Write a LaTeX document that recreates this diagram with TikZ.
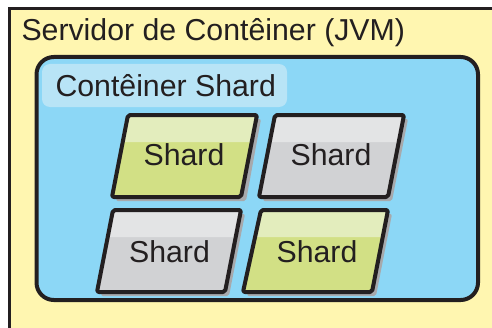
\documentclass[tikz,border=0pt]{standalone}
\usepackage{fontspec}
\setmainfont{Liberation Sans}

\tikzset{every picture/.style={line width=0.75pt}}
\tikzset{
  shardline/.style={line width=3pt, draw={rgb, 255:red, 35; green, 31; blue, 32 }, rounded corners=1.5pt, line join=round},
  shardshadow/.style={fill={rgb, 255:red, 167; green, 169; blue, 172 }, rounded corners=1.5pt},
  greenbody/.style={fill={rgb, 255:red, 210; green, 224; blue, 133 }},
  greenband/.style={fill={rgb, 255:red, 227; green, 237; blue, 189 }},
  graybody/.style={fill={rgb, 255:red, 209; green, 210; blue, 212 }},
  grayband/.style={fill={rgb, 255:red, 227; green, 228; blue, 229 }},
  lbl/.style={font=\fontsize{22.7}{27}\selectfont, text={rgb, 255:red, 35; green, 31; blue, 32 }, anchor=base west, inner sep=0pt},
}

\begin{document}
\begin{tikzpicture}[x=0.75pt,y=0.75pt,yscale=-1,xscale=1]
\useasboundingbox (0,0) rectangle (492,328);
\clip (0,0) rectangle (492,328);

%Shape: Rectangle [id:servidor]
\draw [line width=2.25pt, draw={rgb, 255:red, 35; green, 31; blue, 32 }, fill={rgb, 255:red, 255; green, 246; blue, 176 }] (9.5,8.5) rectangle (520,360) ;
%Shape: Rounded Rect [id:conteiner]
\draw [line width=3pt, rounded corners=13pt, draw={rgb, 255:red, 35; green, 31; blue, 32 }, fill={rgb, 255:red, 140; green, 215; blue, 246 }] (36.5,57) rectangle (478,300) ;
%Shape: Rounded Rect [id:conteinerlabel]
\fill [rounded corners=6pt, fill={rgb, 255:red, 184; green, 228; blue, 246 }] (42,64) rectangle (287,107) ;

%Shape: Shard 1 (green)
\fill [shardshadow] (132,119) -- (261,119) -- (246,201) -- (116,201) -- cycle ;
\fill [greenbody] (128,115) -- (257,115) -- (241,197) -- (112,197) -- cycle ;
\fill [greenband] (128,115) -- (257,115) -- (251.7,142) -- (122.7,142) -- cycle ;
\draw [shardline] (128,115) -- (257,115) -- (241,197) -- (112,197) -- cycle ;
%Shape: Shard 2 (gray)
\fill [shardshadow] (279,119) -- (408,119) -- (392,201) -- (263,201) -- cycle ;
\fill [graybody] (275,115) -- (404,115) -- (388,197) -- (259,197) -- cycle ;
\fill [grayband] (275,115) -- (404,115) -- (398.7,142) -- (269.7,142) -- cycle ;
\draw [shardline] (275,115) -- (404,115) -- (388,197) -- (259,197) -- cycle ;
%Shape: Shard 3 (gray)
\fill [shardshadow] (117,214) -- (245,214) -- (229,296) -- (101,296) -- cycle ;
\fill [graybody] (113,210) -- (241,210) -- (225,292) -- (97,292) -- cycle ;
\fill [grayband] (113,210) -- (241,210) -- (235.7,237) -- (107.7,237) -- cycle ;
\draw [shardline] (113,210) -- (241,210) -- (225,292) -- (97,292) -- cycle ;
%Shape: Shard 4 (green)
\fill [shardshadow] (265,214) -- (392,214) -- (376,296) -- (247,296) -- cycle ;
\fill [greenbody] (261,210) -- (388,210) -- (372,292) -- (243,292) -- cycle ;
\fill [greenband] (261,210) -- (388,210) -- (382.7,237) -- (255.7,237) -- cycle ;
\draw [shardline] (261,210) -- (388,210) -- (372,292) -- (243,292) -- cycle ;

% Text Node
\node [lbl] (servidortext) at (21,40.7) {Servidor de Contêiner (JVM)};
% Text Node
\node [lbl] (conteinertext) at (55,96.5) {Contêiner Shard};
% Text Node
\node [lbl, anchor=base] (shardA) at (184,165) {Shard};
% Text Node
\node [lbl, anchor=base] (shardB) at (331,165) {Shard};
% Text Node
\node [lbl, anchor=base] (shardC) at (169.5,262) {Shard};
% Text Node
\node [lbl, anchor=base] (shardD) at (317,262) {Shard};

\end{tikzpicture}
\end{document}
